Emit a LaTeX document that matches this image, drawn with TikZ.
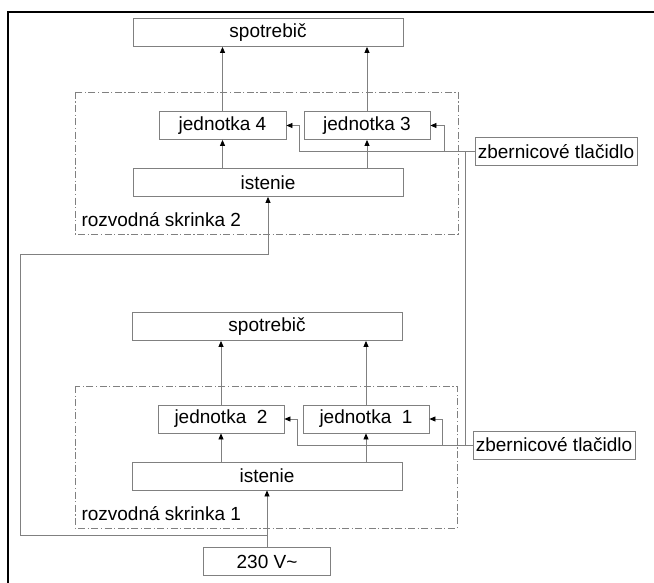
\documentclass[tikz,border=0pt]{standalone}
\usepackage{fontspec}
\setmainfont{Liberation Sans}
\usetikzlibrary{arrows.meta}

\begin{document}
\begin{tikzpicture}[x=1pt,y=-1pt,
    txt/.style={font=\fontsize{19}{22}\selectfont},
    box/.style={txt,draw=gray,line width=0.8pt,inner sep=0pt,minimum height=28pt},
    wire/.style={draw=gray,line width=0.8pt},
    arr/.style={wire,-{Triangle[length=6pt,width=5pt,color=black]}},
    cabinet/.style={draw=gray,line width=0.7pt,dash pattern=on 7pt off 2.5pt on 1.2pt off 2.5pt}
  ]
  \useasboundingbox (0,0) rectangle (654,583);
  \draw[line width=1.6pt] (8,700) -- (8,12) -- (760,12);

  % rozvodna skrinka 2
  \node[box,minimum width=270pt] (sp2) at (268,32.5) {spotrebič};
  \draw[cabinet] (75,92) rectangle (458,234);
  \node[box,minimum width=127pt] (j4) at (222.5,125.5) {jednotka 4};
  \node[box,minimum width=126pt] (j3) at (367,125.5) {jednotka 3};
  \node[box,minimum width=270pt] (ist2) at (268,182.5) {istenie};
  \node[txt,anchor=west] (rs2) at (78,220) {rozvodná skrinka 2};
  \node[box,minimum width=162pt] (zb2) at (556,151.5) {zbernicové tlačidlo};

  % rozvodna skrinka 1
  \node[box,minimum width=270pt] (sp1) at (267,326.5) {spotrebič};
  \draw[cabinet] (75,386) rectangle (457,528);
  \node[box,minimum width=126pt] (j2) at (221,419) {jednotka\ \ 2};
  \node[box,minimum width=126pt] (j1) at (366,419) {jednotka\ \ 1};
  \node[box,minimum width=270pt] (ist1) at (267,476) {istenie};
  \node[txt,anchor=west] (rs1) at (78,514) {rozvodná skrinka 1};
  \node[box,minimum width=162pt] (zb1) at (554,445) {zbernicové tlačidlo};
  \node[box,minimum width=127pt] (v230) at (267,561.5) {230 V\textasciitilde};

  \coordinate (k2) at (299,151.5);
  \coordinate (b2) at (444,151.5);
  \coordinate (t2) at (465,151.5);
  \coordinate (k1) at (297,445);
  \coordinate (b1) at (442,445);
  \coordinate (t1) at (465,445);
  \coordinate (f1) at (267,535);
  \coordinate (f2) at (20,535);
  \coordinate (f3) at (20,254);

  \foreach \u/\s/\i in {j4/sp2/ist2,j3/sp2/ist2,j2/sp1/ist1,j1/sp1/ist1} {
    \draw[arr] (\i.north -| \u) -- (\u.south);
    \draw[arr] (\u.north) -- (\u.north |- \s.south);
  }
  \draw[arr] (zb2.west) -- (k2) |- (j4.east);
  \draw[arr] (b2) |- (j3.east);
  \draw[arr] (zb1.west) -- (k1) |- (j2.east);
  \draw[arr] (b1) |- (j1.east);
  \draw[wire] (t2) -- (t1);
  \draw[arr] (v230.north) -- (ist1.south);
  \draw[arr] (f1) -- (f2) -- (f3) -| (ist2.south);
\end{tikzpicture}
\end{document}
